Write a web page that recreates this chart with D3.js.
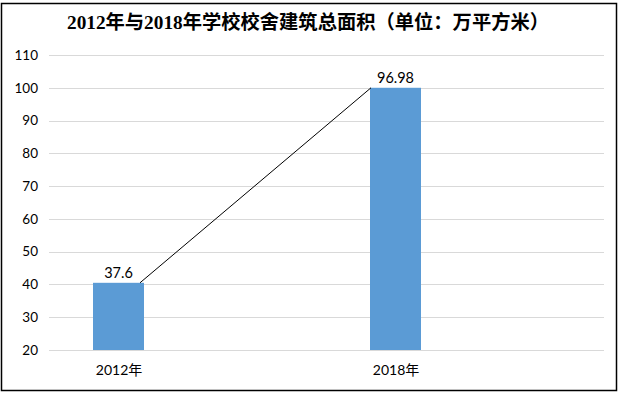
<!DOCTYPE html>
<html>
<head>
<meta charset="utf-8">
<script src="https://cdn.jsdelivr.net/npm/d3@7"></script>
<style>
  body { margin: 0; background: #fff; }
</style>
</head>
<body>
<div id="chart"></div>
<script>
// Data
var categories = ["2012年", "2018年"];
var barValues = [40.5, 100];          // bar heights as drawn
var labelTexts = ["37.6", "96.98"];   // data labels shown above bars
var yTicks = [20, 30, 40, 50, 60, 70, 80, 90, 100, 110];

var width = 619;
var height = 393;

var svg = d3.select("#chart")
  .append("svg")
  .attr("width", width)
  .attr("height", height);

// Chart border
svg.append("rect")
  .attr("x", 1.5).attr("y", 3.5)
  .attr("width", 615).attr("height", 387)
  .attr("fill", "#fff")
  .attr("stroke", "#000")
  .attr("stroke-width", 1.5);

// Title
svg.append("text")
  .attr("x", 308).attr("y", 29)
  .attr("text-anchor", "middle")
  .style("font-family", "'Liberation Serif', 'Noto Sans CJK SC', serif")
  .style("font-weight", "bold")
  .style("font-size", "19.3px")
  .text("2012年与2018年学校校舍建筑总面积（单位：万平方米）");

// Scales
var plotLeft = 49, plotRight = 604;
var y = d3.scaleLinear().domain([20, 110]).range([350, 55]);
var x = d3.scalePoint().domain(categories).range([118.5, 395.5]);
var barWidth = 51;

// Gridlines
svg.append("g")
  .selectAll("line")
  .data(yTicks)
  .join("line")
  .attr("x1", plotLeft).attr("x2", plotRight)
  .attr("y1", function (d) { return Math.round(y(d)) + 0.5; })
  .attr("y2", function (d) { return Math.round(y(d)) + 0.5; })
  .attr("stroke", "#d9d9d9")
  .attr("stroke-width", 1);

// Y axis labels
var yAxis = svg.append("g")
  .attr("transform", "translate(" + 46 + ",0)")
  .call(d3.axisLeft(y).tickValues(yTicks).tickSize(0).tickPadding(8));
yAxis.select(".domain").remove();
yAxis.selectAll("text")
  .style("font-family", "Lato, 'Noto Sans CJK SC', sans-serif")
  .style("font-size", "13.5px")
  .attr("fill", "#000");

// X axis labels
var xAxis = svg.append("g")
  .attr("transform", "translate(0,365)")
  .call(d3.axisBottom(x).tickSize(0).tickPadding(0));
xAxis.select(".domain").remove();
xAxis.selectAll("text")
  .style("font-family", "Lato, 'Noto Sans CJK SC', sans-serif")
  .style("font-size", "14px")
  .attr("fill", "#000");

// Bars
svg.append("g")
  .selectAll("rect")
  .data(barValues)
  .join("rect")
  .attr("x", function (d, i) { return x(categories[i]) - barWidth / 2; })
  .attr("y", function (d) { return y(d); })
  .attr("width", barWidth)
  .attr("height", function (d) { return y(20) - y(d); })
  .attr("fill", "#5b9bd5");

// Connector line between bar tops
svg.append("line")
  .attr("x1", x(categories[0]) + barWidth / 2 - 4)
  .attr("y1", y(barValues[0]))
  .attr("x2", x(categories[1]) - barWidth / 2 + 1)
  .attr("y2", y(barValues[1]))
  .attr("stroke", "#000")
  .attr("stroke-width", 1);

// Data labels
svg.append("g")
  .selectAll("text")
  .data(labelTexts)
  .join("text")
  .attr("x", function (d, i) { return x(categories[i]); })
  .attr("y", function (d, i) { return y(barValues[i]) - 5; })
  .attr("text-anchor", "middle")
  .style("font-family", "Lato, sans-serif")
  .style("font-size", "14.5px")
  .text(function (d) { return d; });
</script>
</body>
</html>
